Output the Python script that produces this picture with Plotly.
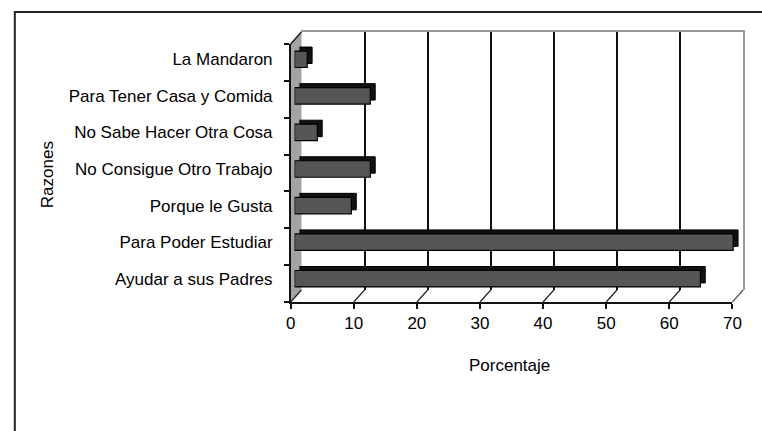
import plotly.graph_objects as go

# ---- data ----
categories = [
    "La Mandaron",
    "Para Tener Casa y Comida",
    "No Sabe Hacer Otra Cosa",
    "No Consigue Otro Trabajo",
    "Porque le Gusta",
    "Para Poder Estudiar",
    "Ayudar a sus Padres",
]
values = [2.0, 12.0, 3.6, 12.0, 9.0, 69.5, 64.3]
x_ticks = [0, 10, 20, 30, 40, 50, 60, 70]
x_title = "Porcentaje"
y_title = "Razones"

W, H = 762, 431
FONT = "Liberation Sans, Arial, sans-serif"


def px(x):
    return x / W


def py(y):
    return 1 - y / H


XMAX = 70
# pixel geometry (front face, back wall)
FX0, FX1, FY0, FY1 = 291, 741, 44, 302      # front axes
BX0, BX1, BY0, BY1 = 302, 752, 32, 290      # back wall
BarX0, BarY0, BarY1 = 295, 41, 297           # bar front face
SDX, SDY = 5, -4                             # bar depth offset

fig = go.Figure()

# back wall subplot (gridlines)
fig.add_trace(go.Scatter(x=[], y=[], xaxis="x", yaxis="y", showlegend=False, hoverinfo="skip"))
# bar shadow / depth
fig.add_trace(go.Bar(
    y=categories, x=values, orientation="h", xaxis="x2", yaxis="y2",
    marker=dict(color="#111111", line=dict(color="#000000", width=1)),
    width=0.45, showlegend=False, hoverinfo="skip"))
# bar front faces
fig.add_trace(go.Bar(
    y=categories, x=values, orientation="h", xaxis="x3", yaxis="y3",
    marker=dict(color="#565656", line=dict(color="#000000", width=1.2)),
    width=0.45, showlegend=False))
# front axes
fig.add_trace(go.Scatter(x=[], y=[], xaxis="x4", yaxis="y4", showlegend=False, hoverinfo="skip"))

hidden = dict(showgrid=False, zeroline=False, showline=False, showticklabels=False, ticks="")

layout = dict(
    width=W, height=H, autosize=False,
    margin=dict(l=0, r=0, t=0, b=0),
    paper_bgcolor="white", plot_bgcolor="rgba(0,0,0,0)",
    font=dict(family=FONT, size=17, color="#000000"),
    bargap=0.5,
    xaxis=dict(domain=[px(BX0), px(BX1)], range=[0, XMAX], anchor="y",
               tickvals=x_ticks, showgrid=True, gridcolor="#111111", gridwidth=1.5,
               zeroline=False, showticklabels=False, ticks="",
               showline=True, side="top", linecolor="#9a9a9a", linewidth=1.5),
    yaxis=dict(domain=[py(BY1), py(BY0)], range=[0, 1], anchor="x",
               showgrid=False, zeroline=False, showticklabels=False, ticks="",
               showline=True, side="right", linecolor="#9a9a9a", linewidth=1.5),
    xaxis2=dict(domain=[px(BarX0 + SDX), px(BarX0 + SDX + (FX1 - FX0))], range=[0, XMAX],
                anchor="y2", **hidden),
    yaxis2=dict(domain=[py(BarY1 + SDY), py(BarY0 + SDY)], anchor="x2", type="category",
                categoryorder="array", categoryarray=categories, autorange="reversed", **hidden),
    xaxis3=dict(domain=[px(BarX0), px(BarX0 + (FX1 - FX0))], range=[0, XMAX],
                anchor="y3", **hidden),
    yaxis3=dict(domain=[py(BarY1), py(BarY0)], anchor="x3", type="category",
                categoryorder="array", categoryarray=categories, autorange="reversed",
                showgrid=False, zeroline=False, showline=False, ticks="",
                showticklabels=True, ticklabelstandoff=21,
                tickfont=dict(family=FONT, size=17, color="#000000")),
    xaxis4=dict(domain=[px(FX0), px(FX1)], range=[0, XMAX], anchor="y4",
                tickvals=x_ticks, ticktext=[str(t) for t in x_ticks],
                showgrid=False, zeroline=False, showline=True, linecolor="#111111", linewidth=2,
                ticks="outside", ticklen=5, tickwidth=1.5, tickcolor="#111111",
                tickfont=dict(family=FONT, size=17, color="#000000")),
    yaxis4=dict(domain=[py(FY1), py(FY0)], range=[0, len(categories)], anchor="x4",
                tick0=0, dtick=1, showgrid=False, zeroline=False, showticklabels=False,
                showline=True, linecolor="#111111", linewidth=2,
                ticks="outside", ticklen=5, tickwidth=1.5, tickcolor="#111111"),
)

shapes = []
# outer frame
shapes.append(dict(type="path", xref="paper", yref="paper",
                   path=f"M {px(10)},{py(440)} L {px(10)},{py(12)} L {px(775)},{py(12)}",
                   line=dict(color="#222222", width=2)))
# left side wall
shapes.append(dict(type="path", xref="paper", yref="paper", layer="below",
                   path=(f"M {px(FX0)},{py(FY0)} L {px(BX0)},{py(BY0)} "
                         f"L {px(BX0)},{py(BY1)} L {px(FX0)},{py(FY1)} Z"),
                   fillcolor="#a3a3a3", line=dict(width=0)))
shapes.append(dict(type="line", xref="paper", yref="paper",
                   x0=px(FX0), y0=py(FY0), x1=px(BX0), y1=py(BY0),
                   line=dict(color="#222222", width=1.5)))
# floor diagonals at each tick
for t in x_ticks:
    fx = FX0 + (FX1 - FX0) * t / XMAX
    bx = BX0 + (BX1 - BX0) * t / XMAX
    shapes.append(dict(type="line", xref="paper", yref="paper",
                       x0=px(fx), y0=py(FY1), x1=px(bx), y1=py(BY1),
                       line=dict(color="#555555" if t == XMAX else "#222222", width=1.2)))
layout["shapes"] = shapes

layout["annotations"] = [
    dict(text=x_title, xref="paper", yref="paper", x=px(514), y=py(365),
         xanchor="center", yanchor="middle",
         showarrow=False, font=dict(family=FONT, size=17, color="#000000")),
    dict(text=y_title, xref="paper", yref="paper", x=px(43), y=py(175),
         xanchor="center", yanchor="middle",
         textangle=-90, showarrow=False, font=dict(family=FONT, size=17, color="#000000")),
]

fig.update_layout(**layout)
fig.write_html("out.html", config={"responsive": False})
